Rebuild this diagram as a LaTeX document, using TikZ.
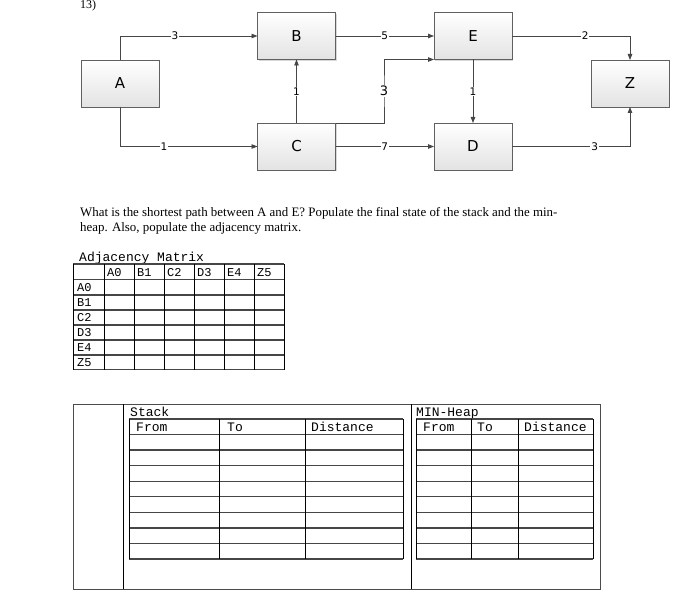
\documentclass[tikz,border=0pt]{standalone}
\usepackage{fontspec}
\setmainfont{Liberation Serif}
\newfontfamily\boxfont{DejaVu Sans}
\newfontfamily\cour{Liberation Mono}
\usetikzlibrary{arrows.meta,shadows}
\begin{document}
\begin{tikzpicture}[x=1pt,y=-1pt,
  vbox/.style={draw=gray!75!black, top color=white, bottom color=gray!22, minimum width=78pt, minimum height=47pt, inner sep=0pt, outer sep=0pt, font=\boxfont\fontsize{15}{15}\selectfont, drop shadow={shadow xshift=1.2pt,shadow yshift=-1.2pt,opacity=0.3}},
  edge/.style={draw=gray!55!black, line width=0.8pt, -{Triangle[length=6pt,width=4.5pt]}},
  lbl/.style={fill=white, inner sep=0.8pt, font=\boxfont\fontsize{10.5}{10.5}\selectfont},
  hline/.style={draw=gray!55!black, line width=1.3pt},
  vline/.style={draw=black, line width=0.7pt},
  mono/.style={font=\cour\fontsize{13}{13}\selectfont, inner sep=0pt}]
\useasboundingbox[fill=white] (0,0) rectangle (674,604);

% title
\node[anchor=base west, inner sep=0pt, font=\fontsize{12}{12}\selectfont] (num) at (80,9) {13)};

% graph nodes
\node[vbox] (A) at (120,83.5) {A};
\node[vbox] (B) at (296.5,36) {B};
\node[vbox] (C) at (296.5,146.5) {C};
\node[vbox] (E) at (473,36) {E};
\node[vbox] (D) at (473,146.5) {D};
\node[vbox] (Z) at (630,83.5) {Z};
\coordinate (m) at (384,91);

\draw[edge] (A.north) |- node[lbl,pos=0.70] {3} (B.west);
\draw[edge] (A.south) |- node[lbl,pos=0.66] {1} (C.west);
\draw[edge] (C.north) -- node[lbl] {1} (B.south);
\draw[edge] (B.east) -- node[lbl] {5} (E.west);
\draw[edge] (C.north east) -| (m) |- (E.south west);
\node[fill=white, inner sep=1pt, font=\boxfont\fontsize{13}{13}\selectfont] (l3) at (m) {3};
\draw[edge] (C.east) -- node[lbl] {7} (D.west);
\draw[edge] (E.south) -- node[lbl] {1} (D.north);
\draw[edge] (E.east) -| node[lbl,pos=0.31] {2} (Z.north);
\draw[edge] (D.east) -| node[lbl,pos=0.35] {3} (Z.south);

% question
\node[anchor=base west, inner sep=0pt, font=\fontsize{12.9}{15}\selectfont] (q1) at (80,216)
 {What is the shortest path between A and E? Populate the final state of the stack and the min-};
\node[anchor=base west, inner sep=0pt, font=\fontsize{12.9}{15}\selectfont] (q2) at (80,231)
 {heap. Also, populate the adjacency matrix.};

% adjacency matrix
\node[mono, anchor=base west] (adj) at (79,261) {Adjacency Matrix};
\foreach \y in {264,279.8,295,310,325,340,355,369.5} \draw[hline] (73,\y) -- (284,\y);
\foreach \x in {73,104,134,164,194,224,254,284} \draw[vline] (\x,264) -- (\x,369.5);
\foreach \t [count=\i from 0] in {A0,B1,C2,D3,E4,Z5} {
  \node[mono, anchor=base west, font=\cour\fontsize{12}{12}\selectfont] (h\i) at (107+30*\i,276) {\t};
  \node[mono, anchor=base west, font=\cour\fontsize{12}{12}\selectfont] (r\i) at (77,291.5+15*\i) {\t};
}

% big frame
\draw[draw=gray!60!black, line width=0.8pt] (73,404) rectangle (600,589);
\draw[vline] (123,404) -- (123,589);
\draw[vline] (411,404) -- (411,589);

\node[mono, anchor=base west] (stk) at (130,416) {Stack};
\node[mono, anchor=base west] (hp) at (416,416) {MIN-Heap};

\foreach \k in {0,...,9} {
  \draw[hline] (129,419+15.56*\k) -- (403,419+15.56*\k);
  \draw[hline] (416,419+15.56*\k) -- (593,419+15.56*\k);
}
\foreach \x in {129,219,305,403} \draw[vline] (\x,419) -- (\x,559);
\foreach \x in {416,471,518,593} \draw[vline] (\x,419) -- (\x,559);

\node[mono, anchor=base west] (sf) at (136,431) {From};
\node[mono, anchor=base west] (st) at (227,431) {To};
\node[mono, anchor=base west] (sd) at (311,431) {Distance};
\node[mono, anchor=base west] (hf) at (423,431) {From};
\node[mono, anchor=base west] (ht) at (477,431) {To};
\node[mono, anchor=base west] (hd) at (524,431) {Distance};
\end{tikzpicture}
\end{document}
